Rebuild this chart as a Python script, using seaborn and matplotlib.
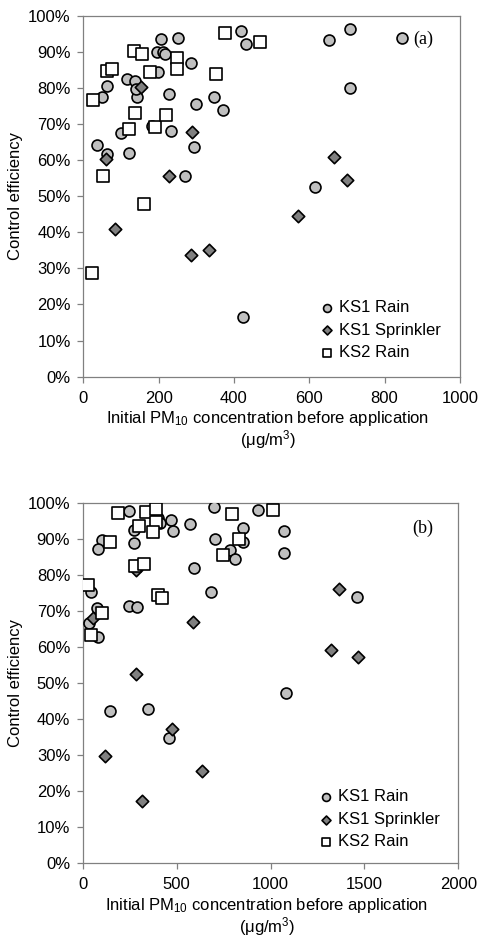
import matplotlib
matplotlib.use("Agg")
import matplotlib.pyplot as plt
import seaborn as sns
import pandas as pd
from matplotlib.ticker import PercentFormatter

sns.set_style("ticks")
plt.rcParams['font.family'] = ['Liberation Sans', 'DejaVu Sans']
plt.rcParams['mathtext.default'] = 'regular'
plt.rcParams['text.color'] = 'black'
plt.rcParams['axes.labelcolor'] = 'black'

# ---------------- Data (x = initial PM10 ug/m3, y = control efficiency %) ----------------
a_ks1_rain_x = [36, 49, 62, 64, 99, 121, 117, 137, 142, 140, 182, 233, 228, 295, 270, 299, 347, 372,
                285, 206, 252, 197, 211, 216, 199, 419, 433, 653, 709, 846, 708, 615, 423]
a_ks1_rain_y = [64.2, 77.6, 80.5, 61.7, 67.4, 62.1, 82.5, 81.9, 77.6, 79.8, 69.5, 68.1, 78.3, 63.7, 55.7, 75.6, 77.5, 73.9,
                86.8, 93.5, 93.9, 90.0, 90.0, 89.5, 84.5, 95.8, 92.2, 93.4, 96.2, 93.9, 80.0, 52.6, 16.6]
a_ks1_spr_x = [60, 85, 152, 227, 285, 290, 333, 571, 666, 700]
a_ks1_spr_y = [60.2, 40.9, 80.3, 55.7, 33.7, 67.9, 35.1, 44.5, 60.9, 54.5]
a_ks2_rain_x = [23, 27, 53, 62, 75, 122, 135, 136, 157, 161, 177, 190, 220, 248, 248, 352, 376, 469]
a_ks2_rain_y = [28.6, 76.6, 55.7, 84.7, 85.1, 68.6, 90.3, 73.0, 89.4, 47.8, 84.5, 69.1, 72.5, 88.2, 85.1, 83.8, 95.3, 92.6]

b_ks1_rain_x = [248, 273, 273, 101, 80, 42, 78, 35, 83, 248, 287, 402, 411, 470, 482, 571, 594, 683,
                698, 707, 787, 810, 851, 851, 931, 1071, 1071, 1463, 145, 349, 461, 1081]
b_ks1_rain_y = [97.6, 92.5, 88.7, 89.7, 87.2, 75.3, 70.7, 66.7, 62.8, 71.4, 71.0, 95.7, 94.3, 95.2, 92.2, 94.0, 82.0, 75.3,
                98.9, 89.9, 86.9, 84.3, 93.1, 89.2, 98.0, 92.2, 86.0, 73.9, 42.3, 42.8, 34.8, 47.1]
b_ks1_spr_x = [53, 282, 284, 588, 1365, 1324, 1466, 119, 314, 477, 636]
b_ks1_spr_y = [67.9, 81.3, 52.5, 67.0, 76.0, 59.2, 57.3, 29.8, 17.4, 37.2, 25.7]
b_ks2_rain_x = [190, 337, 390, 390, 301, 376, 145, 30, 104, 44, 280, 328, 402, 420, 794, 833, 748, 1014]
b_ks2_rain_y = [97.2, 97.5, 98.2, 94.7, 93.5, 91.8, 89.0, 77.2, 69.5, 63.3, 82.4, 82.9, 74.4, 73.5, 96.8, 89.9, 85.5, 98.0]

series_names = ["KS1 Rain", "KS1 Sprinkler", "KS2 Rain"]
y_ticks = [0, 10, 20, 30, 40, 50, 60, 70, 80, 90, 100]
a_x_ticks = [0, 200, 400, 600, 800, 1000]
b_x_ticks = [0, 500, 1000, 1500, 2000]
y_label = "Control efficiency"
x_label = "Initial PM$_{10}$ concentration before application\n(μg/m$^{3}$)"
panel_labels = ["(a)", "(b)"]

# ---------------- Styles ----------------
styles = {
    "KS1 Rain": dict(marker="o", color="#c0c0c0", s=62),
    "KS1 Sprinkler": dict(marker="D", color="#808080", s=40),
    "KS2 Rain": dict(marker="s", color="#ffffff", s=80),
}
axis_grey = "#808080"
fs = 12

fig = plt.figure(figsize=(4.79, 9.42), dpi=100)
W, H = 479, 942
ax_a = fig.add_axes([83.3 / W, 1 - 376.7 / H, 376.5 / W, 361.0 / H])
ax_b = fig.add_axes([82.7 / W, 1 - 863.3 / H, 375.6 / W, 360.6 / H])

panels = [
    (ax_a, [(a_ks1_rain_x, a_ks1_rain_y), (a_ks1_spr_x, a_ks1_spr_y), (a_ks2_rain_x, a_ks2_rain_y)],
     a_x_ticks, panel_labels[0], (0.902, 0.935), 0.212),
    (ax_b, [(b_ks1_rain_x, b_ks1_rain_y), (b_ks1_spr_x, b_ks1_spr_y), (b_ks2_rain_x, b_ks2_rain_y)],
     b_x_ticks, panel_labels[1], (0.905, 0.929), 0.205),
]

for ax, data, xt, plabel, ppos, leg_y in panels:
    for name, (xs, ys) in zip(series_names, data):
        df = pd.DataFrame({"x": xs, "y": ys})
        st = styles[name]
        sns.scatterplot(data=df, x="x", y="y", ax=ax, marker=st["marker"], color=st["color"],
                        s=st["s"], edgecolor="black", linewidth=1.2, label=name, zorder=3)
    ax.set_xlim(xt[0], xt[-1])
    ax.set_ylim(0, 100)
    ax.set_xticks(xt)
    ax.set_yticks(y_ticks)
    ax.yaxis.set_major_formatter(PercentFormatter(decimals=0))
    for sp in ax.spines.values():
        sp.set_visible(True)
        sp.set_color(axis_grey)
        sp.set_linewidth(0.9)
    ax.tick_params(axis="both", which="major", direction="out", length=4, width=0.9, color=axis_grey,
                   labelsize=fs, labelcolor="black", pad=5, bottom=True, left=True,
                   top=False, right=False)
    ax.tick_params(axis="x", pad=6)
    ax.set_ylabel(y_label, fontsize=fs, color="black")
    ax.yaxis.set_label_coords(-0.179, 0.5)
    ax.yaxis.label.set_va("center")
    ax.set_xlabel(x_label, fontsize=fs, linespacing=1.0, color="black")
    ax.xaxis.set_label_coords(0.49, -0.148)
    ax.xaxis.label.set_va("center")
    ax.text(ppos[0], ppos[1], plabel, transform=ax.transAxes, ha="center", va="center",
            fontsize=13, family="Liberation Serif")
    leg = ax.legend(loc="upper left", bbox_to_anchor=(0.62, leg_y), frameon=False,
                    fontsize=fs, handletextpad=0.15, labelspacing=0.45, markerscale=0.72,
                    borderaxespad=0, borderpad=0, handlelength=1.2)
    for t in leg.get_texts():
        t.set_color("black")

fig.savefig("out.png", dpi=100)
